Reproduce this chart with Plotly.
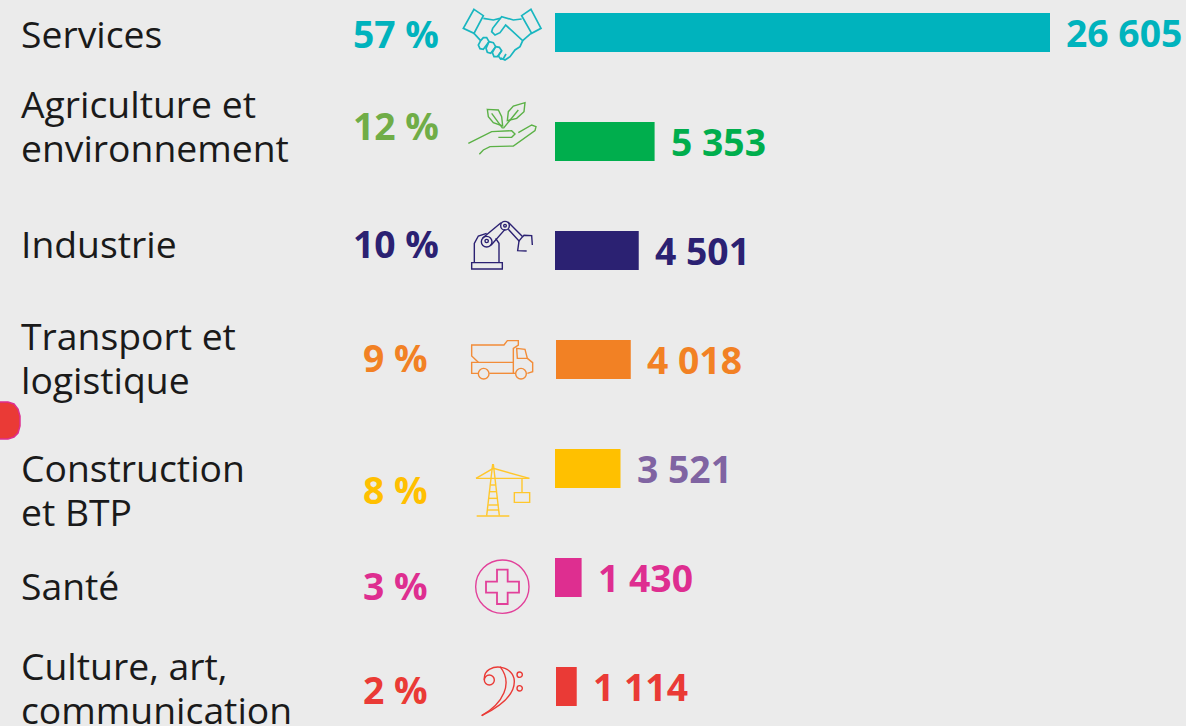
import plotly.graph_objects as go

# ---- data ----
categories = [["Services"], ["Agriculture et", "environnement"], ["Industrie"], ["Transport et", "logistique"],
              ["Construction", "et BTP"], ["Santé"], ["Culture, art,", "communication"]]
shares = ["57 %", "12 %", "10 %", "9 %", "8 %", "3 %", "2 %"]
values = [26605, 5353, 4501, 4018, 3521, 1430, 1114]
value_labels = ["26 605", "5 353", "4 501", "4 018", "3 521", "1 430", "1 114"]

# ---- style / layout ----
W, H = 1186, 726
BG = "#EBEBEB"
TXT = "#1A1A1A"
FONT = "Open Sans"
FS = 37.3
bar_colors = ["#00B3BD", "#00AE4D", "#2B2172", "#F28124", "#FFC000", "#DE2E90", "#EA3A36"]
share_colors = ["#00B3BD", "#70AD47", "#2B2172", "#F28124", "#FFC000", "#DE2E90", "#EA3A36"]
value_colors = ["#00B3BD", "#00AE4D", "#2B2172", "#F28124", "#8064A2", "#DE2E90", "#EA3A36"]
icon_colors = ["#19B6C0", "#5BB146", "#2B2172", "#F28C38", "#FFC72C", "#E2409A", "#EA3A36"]
bar_y = [32.5, 141.5, 250.5, 359.5, 468.5, 577.5, 686.5]
bar_x0 = [555, 555, 555, 556, 555, 555, 556]
label_y = [[33], [103.5, 147.5], [243], [335.5, 379.5], [467.5, 511.5], [585], [665.5, 709.5]]
share_x = [351.5, 351.5, 351.5, 362, 362, 362, 362]
share_y = [33, 125, 243, 357, 489, 585, 689]
PX = 495 / 26605  # pixels per unit

fig = go.Figure()
for v, c, y, x0 in zip(values, bar_colors, bar_y, bar_x0):
    fig.add_trace(go.Bar(x=[v], y=[y], base=[(x0 - 555) / PX], orientation="h", width=39,
                         marker=dict(color=c, line=dict(width=0)), showlegend=False, hoverinfo="skip"))

ann = []
def text(x, y, s, size, color, bold=False):
    ann.append(dict(x=x / W, xref="paper", y=y, yref="y", text=f"<b>{s}</b>" if bold else s, showarrow=False,
                    xanchor="left", yanchor="middle", align="left",
                    font=dict(family=FONT, size=size, color=color), borderpad=0, xshift=0))

for i, lines in enumerate(categories):
    for ln, ly in zip(lines, label_y[i]):
        text(20, ly, ln, FS, TXT)
    text(share_x[i], share_y[i], shares[i], FS, share_colors[i], True)
    text(bar_x0[i] + values[i] * PX + 15, bar_y[i] - 0.5, value_labels[i], FS, value_colors[i], True)

shapes = []
def px(x, y):
    return f"{x / W:.5f},{1 - y / H:.5f}"

def line(pts, color, ox, oy, close=False, w=1.4):
    d = "M" + " L".join(px(ox + a / 3, oy + b / 3).replace(",", " ") for a, b in pts)
    if close:
        d += " Z"
    shapes.append(dict(type="path", path=d, xref="paper", yref="paper", line=dict(color=color, width=w), layer="above"))

def curve(start, segs, color, ox, oy, w=1.4):
    f = lambda p: px(ox + p[0] / 3, oy + p[1] / 3).replace(",", " ")
    d = "M" + f(start) + "".join(" C" + " ".join(f(p) for p in s) for s in segs)
    shapes.append(dict(type="path", path=d, xref="paper", yref="paper", line=dict(color=color, width=w), layer="above"))

def circ(cx, cy, r, color, ox, oy, w=1.4):
    x, y = ox + cx / 3, oy + cy / 3
    r = r / 3
    shapes.append(dict(type="circle", xref="paper", yref="paper", x0=(x - r) / W, x1=(x + r) / W,
                       y0=1 - (y + r) / H, y1=1 - (y - r) / H, line=dict(color=color, width=w), layer="above"))

# handshake
c, ox, oy = icon_colors[0], 450, 0
line([(72, 28), (100, 47), (72, 100), (40, 85)], c, ox, oy, True, 1.7)
line([(243, 28), (273, 85), (245, 100), (215, 47)], c, ox, oy, True, 1.7)
line([(100, 55), (130, 60), (150, 55)], c, ox, oy, w=1.7)
line([(215, 57), (190, 60), (155, 50), (128, 85), (125, 95), (135, 105), (150, 98), (167, 75), (218, 122),
      (210, 140), (195, 150), (180, 170), (165, 180), (152, 174)], c, ox, oy, w=1.7)
line([(72, 100), (92, 122)], c, ox, oy, w=1.7)
line([(243, 100), (218, 122)], c, ox, oy, w=1.7)
line([(92, 122), (85, 135), (90, 146), (100, 148), (117, 125), (110, 113), (100, 113), (92, 122)], c, ox, oy, w=1.7)
line([(117, 125), (108, 145), (112, 157), (122, 160), (137, 140), (130, 128), (117, 125)], c, ox, oy, w=1.7)
line([(137, 140), (127, 158), (132, 170), (142, 170), (155, 152), (148, 142), (137, 140)], c, ox, oy, w=1.7)
line([(155, 152), (145, 168), (152, 177), (160, 176), (168, 162)], c, ox, oy, w=1.7)
# hand and plant
c = icon_colors[1]
line([(55, 430), (125, 395), (185, 392), (195, 402), (185, 412), (145, 412)], c, ox, oy)
line([(205, 398), (245, 375), (258, 380), (255, 392), (190, 438), (120, 440), (100, 450), (88, 463)], c, ox, oy)
line([(112, 328), (145, 330), (155, 350), (158, 378), (130, 368), (115, 350)], c, ox, oy, True)
line([(125, 340), (158, 385)], c, ox, oy)
line([(225, 308), (222, 335), (200, 355), (172, 362), (175, 335), (190, 318)], c, ox, oy, True)
line([(205, 330), (160, 385)], c, ox, oy)
# robot
c, ox, oy = icon_colors[2], 450, 210
line([(65, 158), (157, 158), (157, 177), (65, 177)], c, ox, oy, True)
line([(73, 158), (73, 100), (85, 78), (110, 70)], c, ox, oy)
line([(147, 158), (147, 100), (137, 85)], c, ox, oy)
line([(98, 84), (153, 38)], c, ox, oy)
line([(123, 106), (165, 58)], c, ox, oy)
circ(165, 47, 13, c, ox, oy)
circ(165, 47, 4, c, ox, oy)
circ(110, 95, 16, c, ox, oy)
circ(110, 93, 5, c, ox, oy)
line([(174, 36), (218, 80)], c, ox, oy)
line([(175, 58), (207, 93), (218, 80)], c, ox, oy)
line([(218, 80), (222, 76), (245, 77), (247, 105)], c, ox, oy)
line([(207, 93), (203, 122), (230, 123)], c, ox, oy)
# truck
c = icon_colors[3]
line([(85, 457), (65, 438), (65, 405), (162, 405), (172, 392), (205, 392), (205, 405), (190, 415), (190, 490)], c, ox, oy)
line([(190, 457), (65, 457), (65, 490), (85, 490)], c, ox, oy)
line([(118, 490), (198, 490)], c, ox, oy)
line([(200, 415), (225, 418), (232, 445), (202, 445)], c, ox, oy, True)
line([(232, 445), (248, 458), (248, 485), (232, 490)], c, ox, oy)
circ(101, 491, 16, c, ox, oy)
circ(213, 491, 16, c, ox, oy)
# crane
c, ox, oy = icon_colors[4], 450, 450
line([(128, 42), (110, 197)], c, ox, oy)
line([(130, 42), (148, 197)], c, ox, oy)
line([(78, 85), (238, 85)], c, ox, oy)
line([(78, 85), (130, 55), (238, 85)], c, ox, oy)
for r_y, a, b in [(105, 122, 137), (125, 120, 140), (145, 117, 143), (165, 115, 145), (180, 113, 147)]:
    line([(a, r_y), (b, r_y)], c, ox, oy)
line([(80, 198), (178, 198)], c, ox, oy)
line([(216, 85), (216, 128)], c, ox, oy)
line([(193, 128), (239, 128), (239, 157), (193, 157)], c, ox, oy, True)
# medical cross
c = icon_colors[5]
circ(157, 410, 80, c, ox, oy)
line([(141, 359), (173, 359), (173, 395), (207, 395), (207, 428), (173, 428), (173, 462), (141, 462),
      (141, 428), (108, 428), (108, 395), (141, 395)], c, ox, oy, True, 1.8)
# bass clef
c = icon_colors[6]
circ(118, 690, 15, c, ox, oy)
circ(209, 674, 8, c, ox, oy)
circ(209, 715, 8, c, ox, oy)
curve((95, 797), [[(160, 765), (200, 730), (192, 685)], [(186, 660), (150, 640), (118, 658)], [(105, 666), (102, 680), (103, 690)]], c, ox, oy)
curve((95, 797), [[(160, 760), (190, 700), (150, 650)]], c, ox, oy)

# tab at the left edge
shapes.append(dict(type="path", xref="paper", yref="paper", layer="above",
                   path="M" + " L".join(px(x, y).replace(",", " ") for x, y in
                                        [(-2, 402), (8, 402), (14, 404), (18, 409), (20, 416), (20, 426), (18, 433),
                                         (14, 437), (8, 439), (-2, 439)]) + " Z",
                   fillcolor="#EA3A36", line=dict(color="#DE2E90", width=1.5)))

fig.update_layout(
    width=W, height=H, margin=dict(l=0, r=0, t=0, b=0), paper_bgcolor=BG, plot_bgcolor=BG,
    barmode="overlay", showlegend=False, annotations=ann, shapes=shapes,
    xaxis=dict(range=[-555 / PX, (W - 555) / PX], visible=False, fixedrange=True),
    yaxis=dict(range=[H, 0], visible=False, fixedrange=True),
)
fig.write_html("out.html", config=dict(displayModeBar=False),
               post_script="document.body.style.margin='0';document.body.style.overflow='hidden';document.body.style.background='#EBEBEB';")
